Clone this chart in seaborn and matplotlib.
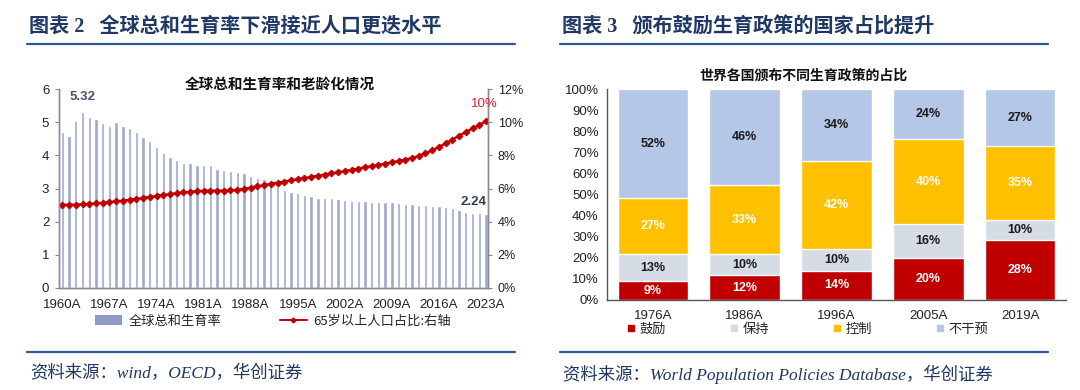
import numpy as np
import pandas as pd
import matplotlib
matplotlib.use("Agg")
import matplotlib.pyplot as plt
import seaborn as sns
from matplotlib.lines import Line2D
from matplotlib.patches import Patch

# ---- data: left chart (world TFR and share of population aged 65+) ----
years = list(range(1960, 2024))
tfr = [4.70, 4.57, 5.03, 5.32, 5.15, 5.10, 4.96, 4.87, 4.99, 4.88,
       4.83, 4.69, 4.56, 4.43, 4.26, 4.08, 3.96, 3.85, 3.77, 3.76,
       3.71, 3.70, 3.72, 3.59, 3.57, 3.53, 3.51, 3.48, 3.39, 3.32,
       3.29, 3.19, 3.08, 2.96, 2.90, 2.85, 2.79, 2.76, 2.72, 2.71,
       2.70, 2.67, 2.65, 2.63, 2.62, 2.61, 2.59, 2.59, 2.58, 2.58,
       2.55, 2.53, 2.53, 2.51, 2.50, 2.48, 2.48, 2.45, 2.40, 2.35,
       2.30, 2.27, 2.25, 2.24]
aged65 = [5.02, 5.02, 5.03, 5.05, 5.07, 5.10, 5.14, 5.18, 5.22, 5.27,
          5.32, 5.37, 5.43, 5.49, 5.55, 5.60, 5.66, 5.71, 5.76, 5.80,
          5.84, 5.86, 5.87, 5.87, 5.87, 5.88, 5.92, 5.98, 6.05, 6.13,
          6.21, 6.28, 6.35, 6.42, 6.49, 6.56, 6.63, 6.70, 6.77, 6.84,
          6.91, 6.98, 7.05, 7.12, 7.20, 7.28, 7.35, 7.42, 7.50, 7.58,
          7.66, 7.74, 7.84, 7.96, 8.12, 8.30, 8.50, 8.72, 8.95, 9.18,
          9.40, 9.62, 9.84, 10.05]
year_labels = [f"{y}A" for y in years]

# ---- data: right chart (share of countries by fertility policy, %) ----
policy_years = ["1976A", "1986A", "1996A", "2005A", "2019A"]
policy_names = ["鼓励", "保持", "控制", "不干预"]
encourage = [9.0, 11.8, 13.9, 19.8, 28.2]
maintain = [12.6, 9.9, 10.2, 16.1, 9.6]
control = [26.7, 32.6, 41.9, 40.2, 35.1]
no_action = [51.7, 45.7, 34.0, 23.9, 27.1]

policy_colors = ["#C00000", "#D6DCE5", "#FFC000", "#B4C7E7"]
label_colors = ["white", "#1A1A1A", "white", "#1A1A1A"]

sns.set_style("white")
plt.rcParams["font.family"] = ["Liberation Sans", "Noto Sans CJK SC"]
plt.rcParams["axes.unicode_minus"] = False

navy = "#1F3864"
rule_blue = "#2F5597"
cjk = ["Noto Sans CJK SC", "DejaVu Sans"]
serif_cjk = ["Liberation Serif", "Noto Sans CJK SC"]

fig = plt.figure(figsize=(10.8, 3.9), dpi=100)

# headers, rules and footers
fig.text(29 / 1080, 1 - 27 / 390, "图表 2   全球总和生育率下滑接近人口更迭水平",
         fontsize=14.5, fontweight="bold", color=navy, va="center", family=serif_cjk)
fig.text(562 / 1080, 1 - 27 / 390, "图表 3   颁布鼓励生育政策的国家占比提升",
         fontsize=14.5, fontweight="bold", color=navy, va="center", family=serif_cjk)
for x0, x1 in [(27, 515), (560, 1048)]:
    for yy in [44, 352]:
        fig.add_artist(Line2D([x0 / 1080, x1 / 1080], [1 - yy / 390, 1 - yy / 390],
                              color=rule_blue, lw=1.6))
fig.text(30 / 1080, 1 - 374 / 390, "资料来源：wind，OECD，华创证券",
         fontsize=12.5, style="italic", color=navy, va="center", family=serif_cjk)
fig.text(563 / 1080, 1 - 374 / 390, "资料来源：World Population Policies Database，华创证券",
         fontsize=12.5, style="italic", color=navy, va="center", family=serif_cjk)

# ---------------- left chart ----------------
ax = fig.add_axes([59 / 1080, 1 - 288 / 390, 429 / 1080, 199 / 390])
df = pd.DataFrame({"year": year_labels, "tfr": tfr, "aged65": aged65})
sns.barplot(data=df, x="year", y="tfr", order=year_labels, color="#9DA9CF",
            width=0.5, saturation=1, ax=ax)
ax.set_ylim(0, 6)
ax.set_yticks(range(0, 7))
ax.set_xlim(-0.5, len(years) - 0.7)
ax.set_xticks(range(0, len(years), 7))
ax.set_xticklabels(year_labels[::7])
ax.set_xlabel("")
ax.set_ylabel("")
ax.tick_params(axis="x", labelsize=9.5, colors="#222222", length=0, pad=8)
ax.tick_params(axis="y", labelsize=9.5, colors="#222222", length=3, pad=4)
ax.tick_params(axis="y", color="#888888")

ax2 = ax.twinx()
sns.lineplot(x=np.arange(len(years)), y=df["aged65"], color="#C00000", lw=1.7,
             marker="D", markersize=3.4, markeredgecolor="#C00000", ax=ax2)
ax2.set_ylim(0, 12)
ax2.set_yticks(range(0, 13, 2))
ax2.set_yticklabels([f"{v}%" for v in range(0, 13, 2)])
ax2.set_ylabel("")
ax2.tick_params(axis="y", labelsize=9, colors="#222222", length=3, pad=4)
ax2.tick_params(axis="y", color="#888888")

for a in (ax, ax2):
    a.spines["top"].set_visible(False)
    for side in ["left", "bottom", "right"]:
        a.spines[side].set_color("#8C8C8C")
        a.spines[side].set_linewidth(1.0)

imax = int(np.argmax(tfr))
ax.annotate(f"{tfr[imax]:.2f}", xy=(imax, tfr[imax]), xytext=(0, 6),
            textcoords="offset points", ha="center", va="bottom",
            fontsize=9.5, fontweight="bold", color="#44546A")
ax.annotate(f"{tfr[-1]:.2f}", xy=(len(tfr) - 1, tfr[-1]), xytext=(-9, 4),
            textcoords="offset points", ha="center", va="bottom",
            fontsize=9.5, fontweight="bold", color="#333F50")
ax2.annotate(f"{aged65[-1]:.0f}%", xy=(len(aged65) - 1, aged65[-1]), xytext=(-1, 8),
             textcoords="offset points", ha="center", va="bottom",
             fontsize=9.5, color="#E0203A")

fig.text(280 / 1080, 1 - 84 / 390, "全球总和生育率和老龄化情况", ha="center", va="center",
         fontsize=10.5, fontweight="bold", color="#111111", family=cjk)

handles = [Patch(facecolor="#8E9AC6", edgecolor="none"),
           Line2D([], [], color="#C00000", lw=1.4, marker="D", markersize=2.5)]
fig.legend(handles, ["全球总和生育率", "65岁以上人口占比:右轴"], ncol=2,
           loc="center left", bbox_to_anchor=(90 / 1080, 1 - 321 / 390), frameon=False,
           borderaxespad=0, handlelength=2.05, handleheight=0.7, columnspacing=4.4,
           handletextpad=0.5, prop={"family": cjk, "size": 9.5})

# ---------------- right chart ----------------
axr = fig.add_axes([607 / 1080, 1 - 300 / 390, 459 / 1080, 211 / 390])
layers = [encourage, maintain, control, no_action]
pdf = pd.DataFrame({"year": policy_years})
cum = np.zeros(len(policy_years))
cums = []
for vals in layers:
    cum = cum + np.array(vals)
    cums.append(cum.copy())
for k in range(len(layers) - 1, -1, -1):
    pdf["cum"] = cums[k]
    sns.barplot(data=pdf, x="year", y="cum", order=policy_years, color=policy_colors[k],
                width=0.77, saturation=1, ax=axr)
for k, vals in enumerate(layers):
    for i, v in enumerate(vals):
        axr.text(i, cums[k][i] - v / 2, f"{v:.0f}%", ha="center", va="center",
                 fontsize=9, fontweight="bold", color=label_colors[k])

axr.set_ylim(0, 100)
axr.set_yticks(range(0, 101, 10))
axr.set_yticklabels([f"{v}%" for v in range(0, 101, 10)])
axr.set_xlim(-0.5, len(policy_years) - 0.5)
axr.set_xticks(np.arange(0.5, len(policy_years), 1), minor=True)
axr.set_xlabel("")
axr.set_ylabel("")
axr.tick_params(axis="x", labelsize=9.5, colors="#222222", length=0, pad=7)
axr.tick_params(axis="x", which="minor", length=3, direction="in", color="#555555")
axr.tick_params(axis="y", labelsize=9.5, colors="#222222", length=3, color="#555555", pad=3)
for side in ["top", "right"]:
    axr.spines[side].set_visible(False)
for side in ["left", "bottom"]:
    axr.spines[side].set_color("#555555")
    axr.spines[side].set_linewidth(1.0)

fig.text(803 / 1080, 1 - 76 / 390, "世界各国颁布不同生育政策的占比", ha="center", va="center",
         fontsize=10, fontweight="bold", color="#111111", family=cjk)

phandles = [Line2D([], [], ls="none", marker="s", markersize=5, color=c) for c in policy_colors]
fig.legend(phandles, policy_names, ncol=4, loc="center left",
           bbox_to_anchor=(620 / 1080, 1 - 329 / 390), frameon=False, borderaxespad=0,
           handlelength=0.8, handletextpad=0.3, columnspacing=4.7,
           prop={"family": cjk, "size": 9.5})

fig.savefig("out.png", dpi=100)
